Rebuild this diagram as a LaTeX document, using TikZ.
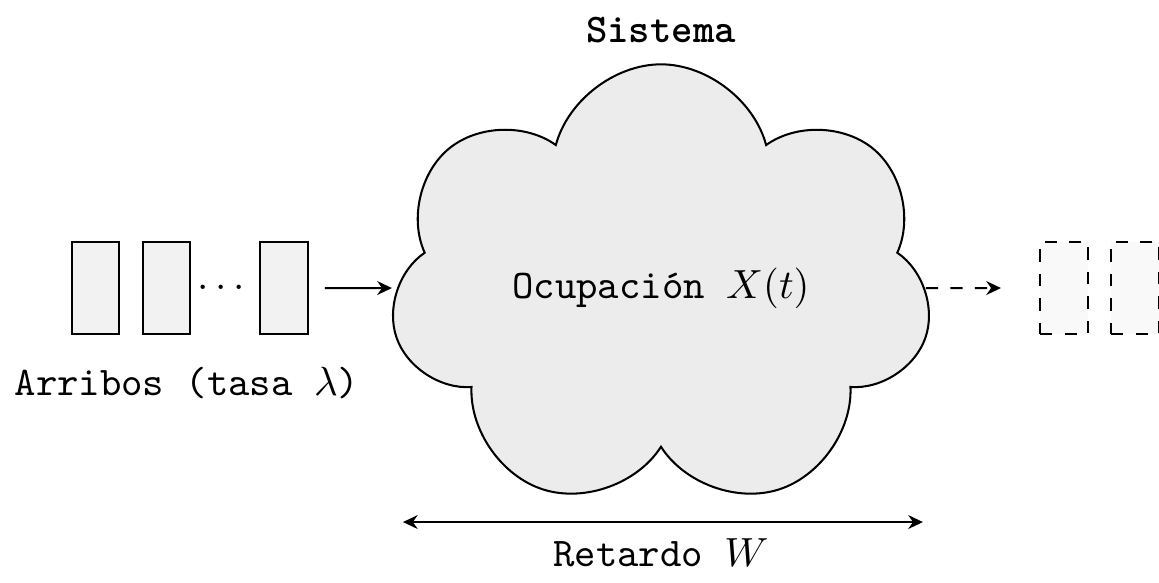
\documentclass[tikz,border=0pt]{standalone}
\usepackage{amsmath}
\usetikzlibrary{shapes.symbols,arrows.meta,positioning}

\begin{document}
\begin{tikzpicture}[>={Stealth[length=3.6pt,width=3.4pt]},line width=0.5pt,
                pkt/.style={draw,fill=gray!10,minimum width=0.41cm,minimum height=0.8cm,inner sep=0pt},
                ghost/.style={draw,dashed,fill=gray!5,minimum width=0.41cm,minimum height=0.8cm,inner sep=0pt},
                lbl/.style={font=\ttfamily}]
	\useasboundingbox (-5.703,-2.537) rectangle (4.297,2.485);
	% sistema
	\node[cloud,draw,fill=gray!15,cloud puffs=7,aspect=1.26,shape border rotate=90,
	      minimum width=4.68cm,minimum height=3.86cm,inner sep=0pt] (cloud) at (0,0) {};
	\node[lbl] (occ) at (0,0) {Ocupación $X(t)$};
	\node[lbl,font=\ttfamily\bfseries] (sys) at (0,2.226) {Sistema};

	% arribos
	\node[pkt] (p1) at (-4.879,0) {};
	\node[pkt] (p2) at (-4.267,0) {};
	\node (dots) at (-3.762,0) {$\cdots$};
	\node[pkt] (p3) at (-3.253,0) {};
	\node[lbl] (arr) at (-4.09,-0.82) {Arribos (tasa $\lambda$)};

	% salidas
	\node[ghost] (q1) at (3.477,0) {};
	\node[ghost] (q2) at (4.09,0) {};

	% retardo
	\coordinate (wl) at (-2.226,-2.019);
	\coordinate (wr) at (2.26,-2.019);
	\node[lbl] (ret) at (0,-2.286) {Retardo $W$};

	\path[->]
	(p3) edge [shorten <=0.14cm,shorten >=1pt] (cloud.west)
	(cloud.east) edge [dashed,shorten >=0.33cm] (q1)
;
	\draw[<->] (wl) -- (wr);
\end{tikzpicture}
\end{document}
